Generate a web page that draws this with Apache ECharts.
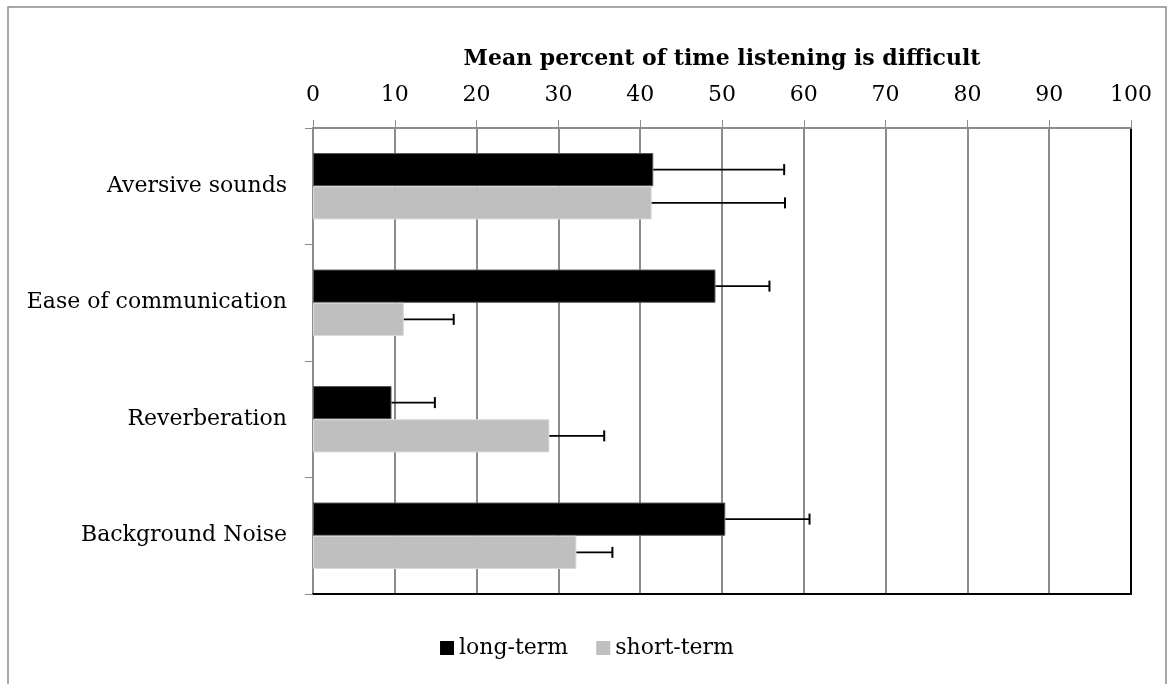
<!DOCTYPE html>
<html><head><meta charset="utf-8">
<script src="https://cdn.jsdelivr.net/npm/echarts@6/dist/echarts.min.js"></script>
<style>html,body{margin:0;padding:0;background:#fff}#c{width:1174px;height:684px}</style>
</head><body><div id="c"></div>
<script>
const categories = ['Aversive sounds', 'Ease of communication', 'Reverberation', 'Background Noise'];
const longTerm = [41.6, 49.2, 9.6, 50.4];
const longTermErr = [57.6, 55.8, 14.9, 60.7];
const shortTerm = [41.4, 11.1, 28.9, 32.2];
const shortTermErr = [57.7, 17.2, 35.6, 36.6];
const xTicks = [0, 10, 20, 30, 40, 50, 60, 70, 80, 90, 100];

const FONT = 'DejaVu Serif';
const chart = echarts.init(document.getElementById('c'));

function errSeries(name, vals, errs, sign) {
  return {
    type: 'custom', name: name + '-err', silent: true, z: 5,
    data: vals.map((v, i) => [i, v, errs[i]]),
    encode: { y: 0, x: [1, 2] },
    renderItem: function (params, api) {
      const ci = api.value(0);
      const p0 = api.coord([api.value(1), ci]);
      const p1 = api.coord([api.value(2), ci]);
      const band = api.size([0, 1])[1];
      const y = p0[1] + sign * band * 0.1428;
      const cap = 5.5;
      return {
        type: 'group', children: [
          { type: 'line', shape: { x1: p0[0], y1: y, x2: p1[0], y2: y }, style: { stroke: '#000', lineWidth: 1.8 } },
          { type: 'line', shape: { x1: p1[0], y1: y - cap, x2: p1[0], y2: y + cap }, style: { stroke: '#000', lineWidth: 2 } }
        ]
      };
    }
  };
}

chart.setOption({
  animation: false,
  backgroundColor: '#fff',
  textStyle: { fontFamily: FONT },
  graphic: [{ type: 'rect', shape: { x: 8, y: 7, width: 1158, height: 690 }, style: { fill: 'none', stroke: '#8c8c8c', lineWidth: 1.5 }, silent: true }],
  grid: { left: 313, right: 43, top: 128, bottom: 90 },
  legend: {
    bottom: 20, left: 'center', itemWidth: 14, itemHeight: 14, itemGap: 28,
    data: ['long-term', 'short-term'],
    textStyle: { fontFamily: FONT, fontSize: 22, color: '#000' },
    itemStyle: { borderWidth: 0 },
    icon: 'rect'
  },
  xAxis: [{
    type: 'value', position: 'top', min: 0, max: 100, interval: 10,
    name: 'Mean percent of time listening is difficult', nameLocation: 'middle', nameGap: 58,
    nameTextStyle: { fontFamily: FONT, fontSize: 22, fontWeight: 'bold', color: '#000' },
    axisLine: { show: true, lineStyle: { color: '#8c8c8c', width: 2 } },
    axisTick: { show: true, inside: false, length: 8, lineStyle: { color: '#8c8c8c', width: 1 } },
    axisLabel: { fontFamily: FONT, fontSize: 22, color: '#000', margin: 22, formatter: v => xTicks.includes(v) ? String(v) : '' },
    splitLine: { show: true, lineStyle: { color: '#8c8c8c', width: 2 } }
  }, {
    type: 'value', position: 'bottom', min: 0, max: 100, interval: 10,
    axisLine: { show: true, onZero: false, lineStyle: { color: '#000', width: 2 } },
    axisTick: { show: false }, axisLabel: { show: false }, splitLine: { show: false }
  }],
  yAxis: [{
    type: 'category', inverse: true, data: categories,
    axisLine: { show: true, lineStyle: { color: '#8c8c8c', width: 2 } },
    axisTick: { show: true, length: 8, lineStyle: { color: '#8c8c8c', width: 1 } },
    axisLabel: { fontFamily: FONT, fontSize: 22, color: '#000', margin: 26 }
  }, {
    type: 'category', position: 'right', inverse: true, data: categories,
    axisLine: { show: true, onZero: false, lineStyle: { color: '#000', width: 2 } },
    axisTick: { show: false }, axisLabel: { show: false }
  }],
  series: [
    { type: 'bar', name: 'long-term', data: longTerm, barGap: '0%', barCategoryGap: '43%',
      itemStyle: { color: '#000', borderColor: '#555', borderWidth: 1 } },
    { type: 'bar', name: 'short-term', data: shortTerm, barGap: '0%', barCategoryGap: '43%',
      itemStyle: { color: '#bfbfbf', borderColor: '#d9d9d9', borderWidth: 1 } },
    errSeries('long-term', longTerm, longTermErr, -1),
    errSeries('short-term', shortTerm, shortTermErr, 1)
  ]
});
</script></body></html>
